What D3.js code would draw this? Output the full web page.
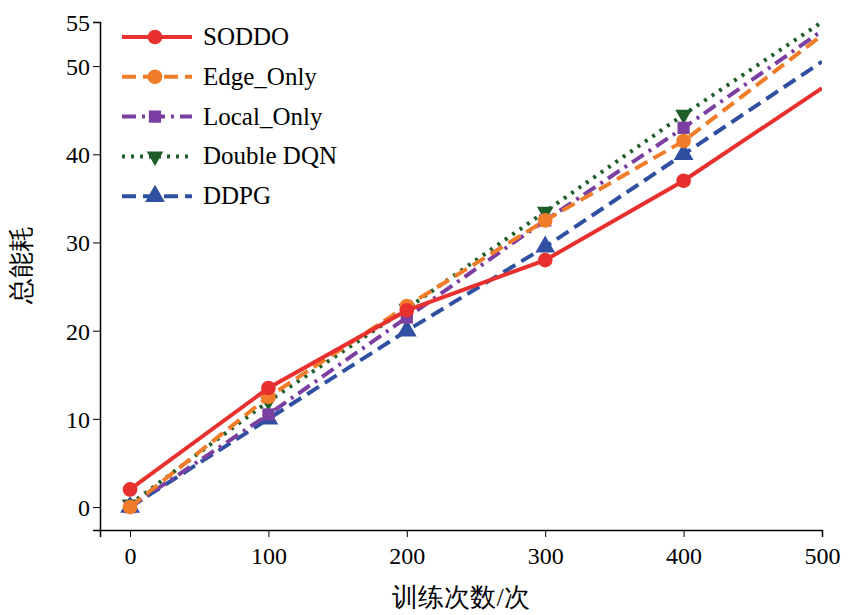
<!DOCTYPE html><html><head><meta charset="utf-8">
<script src="https://cdn.jsdelivr.net/npm/d3@7"></script>
<style>body{margin:0;background:#fff}text{font-family:"Liberation Serif",serif}</style></head><body>
<svg id="c" width="856" height="615"></svg>
<script>
const xs=[0,100,200,300,400,500];
const soddo=[2,13.5,22.3,28,37,47.5];
const edge=[0,12.5,22.8,32.5,41.5,53.5];
const local=[0,10.5,21.5,32.5,43,54];
const dqn=[0.3,12,22.5,33.5,44.5,55];
const ddpg=[0,10,20,29.5,40,50.5];
const xTicks=[0,100,200,300,400,500];
const yTicks=[0,10,20,30,40,50,55];
const names=["SODDO","Edge_Only","Local_Only","Double DQN","DDPG"];
const series=[soddo,edge,local,dqn,ddpg];
const colors=["#e8312f","#f07d2a","#7a3fa0","#1e5e28","#2f4fa0"];
const dashes=[null,"14,7","14,6,3,6","3,6","14,7"];
const syms=[d3.symbolCircle,d3.symbolCircle,d3.symbolSquare,"down",d3.symbolTriangle];
const svg=d3.select("#c");
const x=d3.scaleLinear().domain([-21.7,500]).range([100,822]);
const y=d3.scaleLinear().domain([-2.6,55]).range([530,22]);
svg.append("g").attr("transform","translate(0,530)").call(d3.axisBottom(x).tickValues(xTicks).tickSizeOuter(0).tickSize(7))
 .call(g=>g.selectAll("text").attr("font-size",24).attr("dy","1em"));
svg.append("g").attr("transform","translate(100,0)").call(d3.axisLeft(y).tickValues(yTicks).tickSizeOuter(0).tickSize(7))
 .call(g=>g.selectAll("text").attr("font-size",24).attr("dy","0.35em"));
svg.selectAll(".domain").attr("stroke","#000").attr("stroke-width",1.5);
const defs=svg.append("defs");defs.append("clipPath").attr("id","cp").append("rect").attr("x",100).attr("y",22).attr("width",722).attr("height",508);
const line=d3.line().x((d,i)=>x(xs[i])).y(d=>y(d));
function marker(g,k,cx,cy,c){
  if(syms[k]==="down"){g.append("path").attr("d",d3.symbol(d3.symbolTriangle,120)()).attr("transform",`translate(${cx},${cy}) rotate(180)`).attr("fill",c);}
  else g.append("path").attr("d",d3.symbol(syms[k],syms[k]===d3.symbolSquare?150:170)()).attr("transform",`translate(${cx},${cy})`).attr("fill",c);
}
const pg=svg.append("g").attr("clip-path","url(#cp)");
[4,3,2,1,0].forEach(k=>{
  pg.append("path").attr("d",line(series[k])).attr("fill","none").attr("stroke",colors[k]).attr("stroke-width",4).attr("stroke-dasharray",dashes[k]);
  series[k].forEach((v,i)=>{if(i<5)marker(pg,k,x(xs[i]),y(v),colors[k]);});
});
names.forEach((n,k)=>{
  const yy=37+k*39.8;
  svg.append("line").attr("x1",122).attr("x2",192).attr("y1",yy).attr("y2",yy).attr("stroke",colors[k]).attr("stroke-width",4).attr("stroke-dasharray",dashes[k]);
  marker(svg,k,155,yy,colors[k]);
  svg.append("text").attr("x",203).attr("y",yy+8).attr("font-size",25).text(n);
});
svg.append("text").attr("x",461).attr("y",606).attr("text-anchor","middle").attr("font-size",26).attr("font-family","Noto Sans CJK SC").text("训练次数/次");
svg.append("text").attr("transform","translate(30,265) rotate(-90)").attr("text-anchor","middle").attr("font-size",26).attr("font-family","Noto Sans CJK SC").text("总能耗");
</script></body></html>
